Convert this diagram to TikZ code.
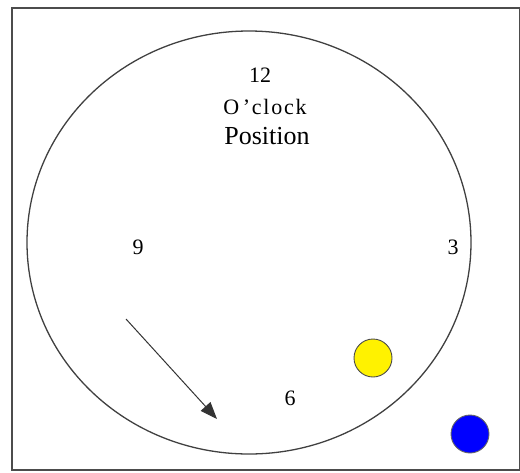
\documentclass[tikz,border=0pt]{standalone}
\usepackage{fontspec}
\setmainfont{Liberation Serif}
\newfontfamily\spacedfont[LetterSpace=8]{Liberation Serif}
\usetikzlibrary{arrows.meta,shapes.geometric}
\begin{document}
\begin{tikzpicture}[x=1pt,y=-1pt,
  lbl/.style={inner sep=0pt,font=\fontsize{22}{26}\selectfont},
  ball/.style={circle,draw=black!70,line width=0.9pt,minimum size=38pt,inner sep=0pt}]
\useasboundingbox (0,0) rectangle (520,472);
\draw[line width=1.3pt,black!70] (12,8) rectangle (519.5,470);
\node[draw=black!75,line width=1.3pt,ellipse,minimum width=444pt,minimum height=423pt,inner sep=0pt] (dial) at (249,242.5) {};
\node[lbl] (twelve) at (260,75) {12};
\node[lbl] (oclock) at (265,107) {\spacedfont O\,’clock};
\node[lbl,font=\fontsize{26}{30}\selectfont] (pos) at (267,136) {Position};
\node[lbl] (nine) at (138,247) {9};
\node[lbl] (three) at (453,247) {3};
\node[lbl] (six) at (290,398) {6};
\coordinate (astart) at (126,319);
\coordinate (aend) at (217,419);
\draw[line width=1pt,black!80,-{Triangle[length=17pt,width=13pt]}] (astart) -- (aend);
\node[ball,fill=yellow] (yel) at (373,358) {};
\node[ball,fill=blue,draw=black!60] (blu) at (470,434) {};
\end{tikzpicture}
\end{document}
